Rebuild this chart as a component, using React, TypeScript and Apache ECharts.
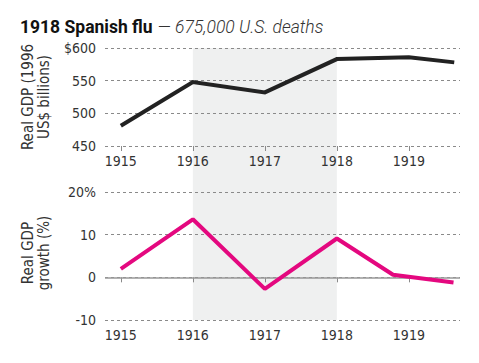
import React, { useEffect, useRef } from "react";
import * as echarts from "echarts";

const gdpYears = [1915, 1916, 1917, 1918, 1919, 1919.63];
const gdpValues = [481, 548, 532, 583, 586, 578];
const growthYears = [1915, 1916, 1917, 1918, 1918.78, 1919.62];
const growthValues = [2.0, 13.6, -2.7, 9.1, 0.6, -1.2];
const yearTicks = [1915, 1916, 1917, 1918, 1919];
const shadeRange = [1916, 1918];
const titleMain = "1918 Spanish flu";
const titleSub = "— 675,000 U.S. deaths";
const topAxisName = "Real GDP (1996\nUS$ billions)";
const bottomAxisName = "Real GDP\ngrowth (%)";

const FONT = "'Liberation Sans Narrow', 'DejaVu Sans Condensed', 'Liberation Sans', sans-serif";
const GRID_COLOR = "#8a8a8a";

export default function App() {
  const ref = useRef<HTMLDivElement>(null);
  useEffect(() => {
    if (!ref.current) return;
    const chart = echarts.init(ref.current, undefined, { renderer: "svg" });
    const xAxisBase = (gridIndex: number) => ({
      type: "value",
      gridIndex,
      min: 1914.78,
      max: 1919.71,
      axisLine: { show: false },
      splitLine: { show: false },
      axisTick: {
        show: true,
        length: 5,
        lineStyle: { color: GRID_COLOR, width: 1 },
        customValues: yearTicks,
      },
      axisLabel: {
        customValues: yearTicks,
        formatter: (v: number) => String(v),
        fontFamily: FONT,
        fontSize: 14,
        color: "#333",
        margin: 8,
      },
    });
    const yAxisBase = (gridIndex: number, min: number, max: number, interval: number, fmt: (v: number) => string) => ({
      type: "value",
      gridIndex,
      min,
      max,
      interval,
      axisLine: { show: false },
      axisTick: { show: false },
      splitLine: { show: true, lineStyle: { color: GRID_COLOR, type: [3, 3], width: 1 } },
      axisLabel: { formatter: fmt, fontFamily: FONT, fontSize: 14, color: "#333", margin: 9 },
    });
    chart.setOption({
      animation: false,
      backgroundColor: "#fff",
      title: {
        left: 15,
        top: 13,
        text: `{b|${titleMain}} {i|${titleSub}}`,
        textStyle: {
          rich: {
            b: { fontFamily: "Roboto, 'Liberation Sans', sans-serif", fontWeight: "bold", fontSize: 17.5, color: "#111" },
            i: { fontFamily: "Roboto, 'Liberation Sans', sans-serif", fontStyle: "italic", fontWeight: 300, fontSize: 17.5, color: "#333" },
          },
        },
      },
      grid: [
        { left: 105, right: 19, top: 48, height: 98 },
        { left: 105, right: 19, top: 192, height: 128 },
      ],
      xAxis: [xAxisBase(0), xAxisBase(1)],
      yAxis: [
        yAxisBase(0, 450, 600, 50, (v) => (v === 600 ? "$600" : String(v))),
        yAxisBase(1, -10, 20, 10, (v) => (v === 20 ? "20%" : String(v))),
      ],
      series: [
        {
          type: "line",
          xAxisIndex: 0,
          yAxisIndex: 0,
          data: gdpYears.map((y, i) => [y, gdpValues[i]]),
          showSymbol: false,
          lineStyle: { color: "#222", width: 4, join: "miter" },
          z: 5,
        },
        {
          type: "line",
          xAxisIndex: 1,
          yAxisIndex: 1,
          data: growthYears.map((y, i) => [y, growthValues[i]]),
          showSymbol: false,
          lineStyle: { color: "#e4087f", width: 4 },
          z: 5,
          markLine: {
            silent: true,
            symbol: "none",
            label: { show: false },
            lineStyle: { color: "#999", type: "solid", width: 1.5 },
            data: [{ yAxis: 0 }],
            z: 3,
          },
        },
      ],
    });
    const x1 = chart.convertToPixel({ xAxisIndex: 0 }, shadeRange[0]) as number;
    const x2 = chart.convertToPixel({ xAxisIndex: 0 }, shadeRange[1]) as number;
    const yTop = chart.convertToPixel({ yAxisIndex: 0 }, 600) as number;
    const yBot = chart.convertToPixel({ yAxisIndex: 1 }, -10) as number;
    const topMid = ((chart.convertToPixel({ yAxisIndex: 0 }, 600) as number) + (chart.convertToPixel({ yAxisIndex: 0 }, 450) as number)) / 2;
    const botMid = ((chart.convertToPixel({ yAxisIndex: 1 }, 20) as number) + (chart.convertToPixel({ yAxisIndex: 1 }, -10) as number)) / 2;
    const nameStyle = {
      fontFamily: FONT,
      fontSize: 15,
      fill: "#333",
      align: "center",
      verticalAlign: "middle",
      lineHeight: 16,
    };
    chart.setOption({
      graphic: [
        {
          type: "rect",
          z: -100,
          silent: true,
          shape: { x: x1, y: yTop, width: x2 - x1, height: yBot - yTop },
          style: { fill: "#eff0f0" },
        },
        {
          type: "text",
          x: 36,
          y: topMid,
          rotation: Math.PI / 2,
          style: { ...nameStyle, text: topAxisName },
        },
        {
          type: "text",
          x: 36,
          y: botMid - 3,
          rotation: Math.PI / 2,
          style: { ...nameStyle, text: bottomAxisName },
        },
      ],
    });
    return () => chart.dispose();
  }, []);
  return <div ref={ref} style={{ width: 479, height: 363, margin: -8 }} />;
}
